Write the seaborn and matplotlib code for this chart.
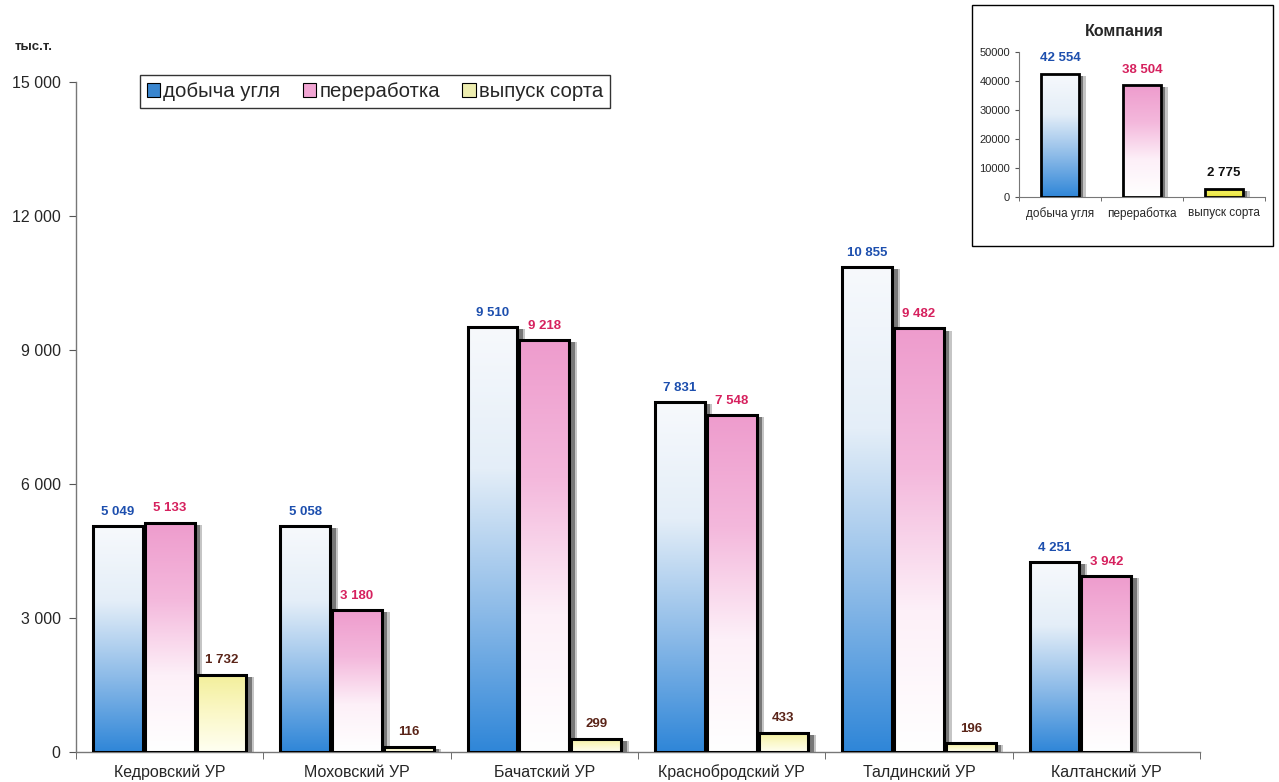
import numpy as np
import pandas as pd
import matplotlib
matplotlib.use("Agg")
import matplotlib.pyplot as plt
import seaborn as sns
from matplotlib.colors import LinearSegmentedColormap
from matplotlib.patches import Rectangle, Patch
from matplotlib.transforms import ScaledTranslation
from matplotlib.ticker import FuncFormatter, FixedLocator


units = [
    "Кедровский УР",
    "Моховский УР",
    "Бачатский УР",
    "Краснобродский УР",
    "Талдинский УР",
    "Калтанский УР",
]
series = ["добыча угля", "переработка", "выпуск сорта"]

mining = [5049, 5058, 9510, 7831, 10855, 4251]
processing = [5133, 3180, 9218, 7548, 9482, 3942]
sorted_output = [1732, 116, 299, 433, 196, np.nan]

company = [42554, 38504, 2775]

y_ticks = [0, 3000, 6000, 9000, 12000, 15000]
inset_ticks = [0, 10000, 20000, 30000, 40000, 50000]

sns.set_style("white")
plt.rcParams["font.family"] = ["Liberation Sans", "DejaVu Sans"]

cmaps = [
    LinearSegmentedColormap.from_list("blue", ["#2f86d8", "#8dbbe8", "#e4eef8", "#f7f9fc"]),
    LinearSegmentedColormap.from_list("pink", ["#ffffff", "#fdf0f8", "#f4b8dc", "#ee9ccd"]),
    LinearSegmentedColormap.from_list("yellow", ["#fffff2", "#fbf8c8", "#f3ef9a"]),
]
inset_cmaps = cmaps[:2] + [
    LinearSegmentedColormap.from_list("yellow2", ["#e8e23a", "#f2ee5a", "#ece63e"])
]
label_colors = ["#1d4fae", "#d6215e", "#5a2418"]
legend_colors = ["#3a86cf", "#f2a6d4", "#eeeeb0"]

grad = np.linspace(0, 1, 256).reshape(-1, 1)


def fmt(v):
    return f"{v:,.0f}".replace(",", " ")


def dress_bar(ax, bar, cmap, dx=4):
    x0 = bar.get_x()
    w = bar.get_width()
    h = bar.get_height()
    if np.isnan(h) or h <= 0:
        return
    # soft dark shadow on the right, like the old Excel 3D-ish bars
    for off, a in [(dx + 1.5, 0.25), (dx, 0.45)]:
        shift = ScaledTranslation(off / 72, -1.5 / 72, ax.figure.dpi_scale_trans)
        ax.add_patch(Rectangle(
            (x0, 0), w, h,
            transform=ax.transData + shift,
            facecolor="#1a1a1a", edgecolor="none", alpha=a, zorder=1.5,
        ))
    bar.set_facecolor("none")
    bar.set_zorder(3)
    img = ax.imshow(
        grad, extent=[x0, x0 + w, 0, h], origin="lower", aspect="auto",
        cmap=cmap, zorder=2.5, interpolation="bilinear",
    )
    img.set_clip_path(bar)


fig = plt.figure(figsize=(12.79, 7.82), dpi=100)

# main chart
df = pd.DataFrame(
    {
        "unit": units * 3,
        "series": np.repeat(series, len(units)),
        "value": mining + processing + sorted_output,
    }
).dropna()

ax = fig.add_axes([76 / 1279, 1 - 752 / 782, 1124 / 1279, 670 / 782])
sns.barplot(
    data=df, x="unit", y="value", hue="series",
    order=units, hue_order=series,
    width=0.83, gap=0.04, errorbar=None, legend=False,
    edgecolor="black", linewidth=2.2, ax=ax,
)

for i, container in enumerate(ax.containers):
    for bar in container:
        h = bar.get_height()
        if np.isnan(h):
            continue
        dress_bar(ax, bar, cmaps[i])
        ax.annotate(
            fmt(h),
            (bar.get_x() + bar.get_width() / 2, h),
            xytext=(0, 6), textcoords="offset points",
            ha="center", va="bottom",
            fontsize=9.5, fontweight="bold", color=label_colors[i],
        )

ax.set_xlim(-0.5, len(units) - 0.5)
ax.set_ylim(0, 15000)
ax.set_yticks(y_ticks)
ax.yaxis.set_major_formatter(FuncFormatter(lambda v, _: fmt(v)))
ax.set_xlabel("")
ax.set_ylabel("")
ax.tick_params(axis="y", labelsize=11.5, length=5, pad=6, direction="out", color="#555555", left=True)
ax.tick_params(axis="x", which="major", labelsize=11.5, length=0, pad=18)
for lbl in ax.get_xticklabels():
    lbl.set_verticalalignment("baseline")
ax.xaxis.set_minor_locator(FixedLocator(np.arange(-0.5, len(units), 1.0)))
ax.tick_params(axis="x", which="minor", length=5, direction="out", color="#555555", bottom=True)
sns.despine(ax=ax)
for side in ["left", "bottom"]:
    ax.spines[side].set_color("#777777")
    ax.spines[side].set_linewidth(1)

fig.text(15 / 1279, 1 - 47 / 782, "тыс.т.", fontsize=9.5, fontweight="bold", va="center")

handles = [Patch(facecolor=c, edgecolor="black", linewidth=0.8) for c in legend_colors]
leg = fig.legend(
    handles, series,
    loc="upper left", bbox_to_anchor=(140 / 1279, 1 - 75 / 782),
    borderaxespad=0,
    ncol=3, frameon=True, fancybox=False, edgecolor="black",
    fontsize=14.7, handlelength=0.65, handleheight=0.65,
    handletextpad=0.15, columnspacing=1.1, borderpad=0.35,
)
leg.get_frame().set_linewidth(1)

# inset: company totals
fig.add_artist(
    Rectangle(
        (972 / 1279, 1 - 246 / 782), 301 / 1279, 241 / 782,
        transform=fig.transFigure, fill=False, edgecolor="black", linewidth=1,
    )
)

ax2 = fig.add_axes([1019 / 1279, 1 - 197 / 782, 246 / 1279, 145 / 782])
sns.barplot(
    x=series, y=company, width=0.47, errorbar=None,
    edgecolor="black", linewidth=2, ax=ax2,
)
for j, bar in enumerate(ax2.patches):
    dress_bar(ax2, bar, inset_cmaps[j], dx=3)
    ax2.annotate(
        fmt(bar.get_height()),
        (bar.get_x() + bar.get_width() / 2, bar.get_height()),
        xytext=(0, 7), textcoords="offset points",
        ha="center", va="bottom",
        fontsize=9.5, fontweight="bold", color=label_colors[j] if j < 2 else "#111111",
    )

ax2.set_xlim(-0.5, 2.5)
ax2.set_ylim(0, 50000)
ax2.set_yticks(inset_ticks)
ax2.tick_params(axis="y", labelsize=8, length=3, direction="out", left=True, color="#555555")
ax2.tick_params(axis="x", which="major", labelsize=8.5, length=0, pad=7)
ax2.xaxis.set_minor_locator(FixedLocator(np.arange(-0.5, 3, 1.0)))
ax2.tick_params(axis="x", which="minor", length=3, direction="out", bottom=True, color="#555555")
sns.despine(ax=ax2)
for side in ["left", "bottom"]:
    ax2.spines[side].set_color("#777777")
fig.text(1124 / 1279, 1 - 32 / 782, "Компания", fontsize=11.5, fontweight="bold", ha="center", va="center")

fig.savefig("out.png", dpi=100)
